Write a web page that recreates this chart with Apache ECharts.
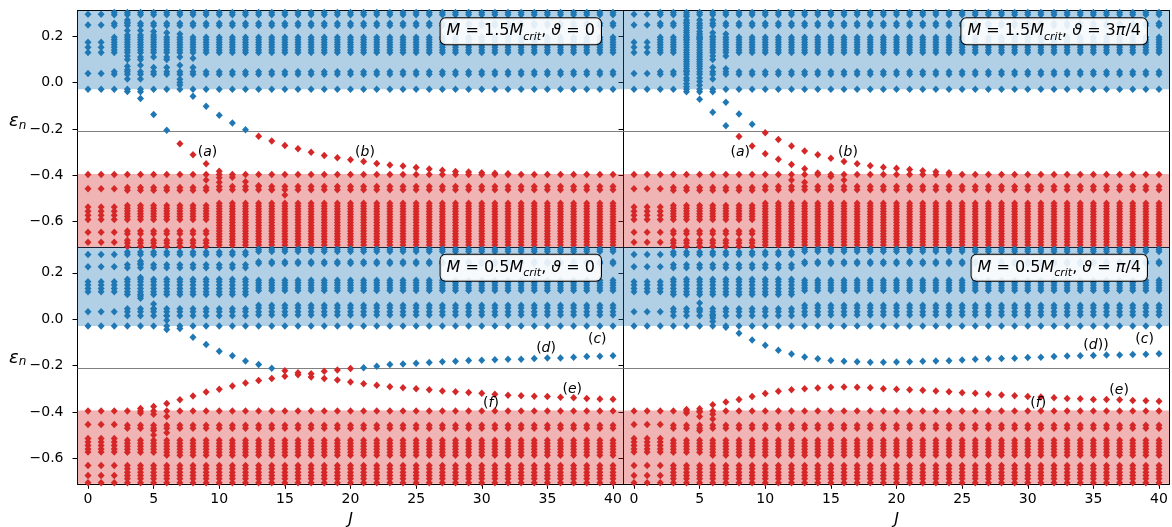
<!DOCTYPE html>
<html>
<head>
<meta charset="utf-8">
<script src="https://cdn.jsdelivr.net/npm/echarts@6.0.0/dist/echarts.min.js"></script>
<style>
html,body{margin:0;padding:0;background:#fff;}
#chart{width:1172px;height:527px;}
</style>
</head>
<body>
<div id="chart"></div>
<script>
// ---------------- data ----------------
const jValues = [0,1,2,3,4,5,6,7,8,9,10,11,12,13,14,15,16,17,18,19,20,21,22,23,24,25,26,27,28,29,30,31,32,33,34,35,36,37,38,39,40];
const xTicks = [0,5,10,15,20,25,30,35,40];
const yTicks = [-0.6,-0.4,-0.2,0,0.2];
const midLevel = -0.21;
const blueBand = [-0.029, 0.31];
const redBand = [-0.71, -0.394];

// band levels, M = 1.5 M_crit (top row); each level set applies to a J range
const topBlueEdge  = [-0.029];
const topBlueLowJ  = [0.295, 0.248, 0.174, 0.152, 0.130, 0.039];
const topBlueHighJ = [0.302, 0.292, 0.256, 0.246, 0.196, 0.185, 0.174, 0.163, 0.152, 0.141, 0.130, 0.047, 0.036];
const topBlueRanges = [[0, 40], [0, 1], [2, 40]];
const topRedEdge   = [-0.396];
const topRedLowJ   = [-0.458, -0.537, -0.555, -0.572, -0.590, -0.645, -0.689];
const topRedMidJ   = [-0.452, -0.464, -0.530, -0.542, -0.554, -0.566, -0.578, -0.590, -0.640, -0.652, -0.680, -0.692, -0.707];
const topRedHighJ  = [-0.448, -0.462, -0.520, -0.532, -0.544, -0.556, -0.568, -0.580, -0.592, -0.604, -0.616, -0.628, -0.640, -0.652, -0.664, -0.676, -0.688, -0.700];
const topRedRanges = [[0, 40], [0, 2], [3, 9], [10, 40]];

// band levels, M = 0.5 M_crit (bottom row)
const botBlueEdge  = [-0.029];
const botBlueLowJ  = [0.279, 0.226, 0.161, 0.147, 0.132, 0.118, 0.032];
const botBlueMidJ  = [0.290, 0.279, 0.235, 0.222, 0.172, 0.161, 0.147, 0.132, 0.118, 0.106, 0.045, 0.032, 0.015];
const botBlueHighJ = [0.302, 0.292, 0.248, 0.240, 0.168, 0.157, 0.146, 0.135, 0.124, 0.060, 0.048, 0.032, 0.018];
const botBlueRanges = [[0, 40], [0, 2], [3, 12], [13, 40]];
const botRedEdge   = [-0.396];
const botRedLowJ   = [-0.454, -0.515, -0.530, -0.545, -0.560, -0.573, -0.631, -0.674, -0.705];
const botRedHighJ  = [-0.458, -0.470, -0.522, -0.535, -0.548, -0.561, -0.574, -0.631, -0.645, -0.660, -0.674, -0.688, -0.705];
const botRedExtraJ = [-0.587];
const botRedRanges = [[0, 40], [0, 2], [3, 40], [6, 40]];

// irregular in-band levels: [J, [levels]]
const tlBlueExtra = [[3,[0.27,0.26,0.225,0.205,0.115,0.10,0.07,0.055,0.015,-0.038]],[4,[0.225,0.205,0.11,0.10,0.075,0.015,-0.04]],[5,[0.22,0.205,0.11,0.065]],[6,[0.215,0.11,0.10,0.065]],[7,[0.21,0.11,0.075,0.0,-0.01]],[8,[0.105,0.065]]];
const tlRedExtra  = [[9,[-0.42]],[10,[-0.41,-0.43]]];
const trBlueExtra = [[4,[0.285,0.27,0.26,0.235,0.225,0.215,0.205,0.195,0.185,0.12,0.11,0.10,0.09,0.08,0.07,0.06,0.05,0.02,0.01,-0.005,-0.018,-0.04]],[5,[0.27,0.235,0.22,0.21,0.2,0.19,0.12,0.11,0.10,0.09,0.08,0.07,0.06,0.02,0.005,-0.012,-0.04]],[6,[0.27,0.215,0.2,0.115,0.10,0.065,0.015,-0.04]],[7,[0.21,0.115,0.06]]];
const trRedExtra  = [[12,[-0.42]],[13,[-0.43]]];
const blBlueExtra = [[4,[0.25,0.24,0.18,0.10,0.09]],[5,[0.065,0.045]],[6,[0.015,-0.005,-0.045]]];
const blRedExtra  = [[4,[-0.385,-0.405]],[5,[-0.41,-0.48,-0.50]],[6,[-0.42,-0.49]]];
const brBlueExtra = [[5,[0.07,0.04]],[6,[0.02,0.005,-0.01]],[7,[-0.035]]];
const brRedExtra  = [[4,[-0.39,-0.405]],[5,[-0.40,-0.42,-0.48]],[6,[-0.41,-0.43]]];

// in-gap states: [J, epsilon]
const tlBlueGap = [[4,-0.069],[5,-0.138],[6,-0.206],[7,0.014],[8,-0.059],[9,-0.102],[10,-0.141],[11,-0.174],[12,-0.203]];
const tlRedGap  = [[7,-0.264],[8,-0.311],[9,-0.350],[10,-0.382],[11,-0.408],[12,-0.428],[13,-0.445],[14,-0.462],[15,-0.485],
  [13,-0.231],[14,-0.252],[15,-0.271],[16,-0.285],[17,-0.301],[18,-0.315],[19,-0.324],[20,-0.333],[21,-0.340],[22,-0.349],[23,-0.356],[24,-0.360],[25,-0.366],[26,-0.373],[27,-0.378],[28,-0.383],[29,-0.386],[30,-0.389],[31,-0.391],[32,-0.393]];
const trBlueGap = [[5,-0.072],[6,-0.128],[7,-0.186],[7,-0.085],[8,-0.136],[9,-0.180]];
const trRedGap  = [[8,-0.233],[9,-0.274],[10,-0.307],[11,-0.331],[12,-0.353],[13,-0.372],[14,-0.390],[15,-0.405],[16,-0.420],
  [10,-0.216],[11,-0.245],[12,-0.274],[13,-0.295],[14,-0.311],[15,-0.326],[16,-0.340],[17,-0.350],[18,-0.359],[19,-0.365],[20,-0.370],[21,-0.375],[22,-0.380],[23,-0.385],[24,-0.389]];
const blBlueGap = [[7,-0.040],[8,-0.078],[9,-0.109],[10,-0.138],[11,-0.158],[12,-0.180],[13,-0.196],[14,-0.212],
  [21,-0.209],[22,-0.203],[23,-0.196],[24,-0.193],[25,-0.190],[26,-0.187],[27,-0.184],[28,-0.181],[29,-0.178],[30,-0.177],[31,-0.175],[32,-0.173],[33,-0.173],[34,-0.170],[35,-0.167],[36,-0.167],[37,-0.164],[38,-0.161],[39,-0.160],[40,-0.158]];
const blRedGap  = [[5,-0.377],[6,-0.364],[7,-0.347],[8,-0.331],[9,-0.314],[10,-0.302],[11,-0.288],[12,-0.275],[13,-0.265],[14,-0.256],
  [15,-0.246],[15,-0.222],[16,-0.231],[16,-0.240],[17,-0.235],[17,-0.249],[18,-0.225],[18,-0.256],[19,-0.219],[19,-0.262],[20,-0.213],[20,-0.271],
  [21,-0.278],[22,-0.285],[23,-0.291],[24,-0.296],[25,-0.300],[26,-0.304],[27,-0.310],[28,-0.313],[29,-0.316],[30,-0.320],[31,-0.324],[32,-0.328],[33,-0.330],[34,-0.332],[35,-0.334],[36,-0.337],[37,-0.339],[38,-0.342],[39,-0.344],[40,-0.345]];
const brBlueGap = [[8,-0.061],[9,-0.090],[10,-0.112],[11,-0.134],[12,-0.150],[13,-0.163],[14,-0.171],[15,-0.178],[16,-0.181],[17,-0.184],[18,-0.186],[19,-0.186],[20,-0.185],
  [21,-0.184],[22,-0.181],[23,-0.180],[24,-0.179],[25,-0.176],[26,-0.173],[27,-0.171],[28,-0.170],[29,-0.168],[30,-0.165],[31,-0.164],[32,-0.161],[33,-0.159],[34,-0.158],[35,-0.157],[36,-0.155],[37,-0.154],[38,-0.152],[39,-0.151],[40,-0.149]];
const brRedGap  = [[5,-0.386],[6,-0.369],[7,-0.357],[8,-0.346],[9,-0.333],[10,-0.321],[11,-0.311],[12,-0.304],[13,-0.300],[14,-0.297],[15,-0.294],[16,-0.293],[17,-0.294],[18,-0.296],[19,-0.300],[20,-0.302],
  [21,-0.304],[22,-0.307],[23,-0.310],[24,-0.313],[25,-0.317],[26,-0.320],[27,-0.324],[28,-0.327],[29,-0.330],[30,-0.333],[31,-0.336],[32,-0.339],[33,-0.342],[34,-0.343],[35,-0.346],[36,-0.346],[37,-0.348],[38,-0.351],[39,-0.352],[40,-0.354]];

// annotations: [J, epsilon, letter, closing]
const tlNotes = [[9.1,-0.301,'a',')'],[21.1,-0.301,'b',')']];
const trNotes = [[8.1,-0.301,'a',')'],[16.3,-0.301,'b',')']];
const blNotes = [[38.8,-0.086,'c',')'],[34.9,-0.127,'d',')'],[36.9,-0.304,'e',')'],[30.7,-0.365,'f',')']];
const brNotes = [[38.9,-0.086,'c',')'],[35.2,-0.114,'d','))'],[36.96,-0.306,'e',')'],[30.8,-0.365,'f',')']];

const panelMass  = ['1.5','1.5','0.5','0.5'];
const panelTheta = ['0','3{i|π}/4','0','{i|π}/4'];

// ---------------- build ----------------
const BLUE = '#1f77b4', RED = '#d62728';
const FONT = 'DejaVu Sans';
function bandPoints(levelSets, ranges) {
  const pts = [];
  levelSets.forEach((levels, k) => {
    jValues.forEach(j => { if (j >= ranges[k][0] && j <= ranges[k][1]) levels.forEach(v => pts.push([j, v])); });
  });
  return pts;
}
function extraPoints(extra) {
  const pts = [];
  extra.forEach(([j, levels]) => levels.forEach(v => pts.push([j, v])));
  return pts;
}
const topBlue = bandPoints([topBlueEdge, topBlueLowJ, topBlueHighJ], topBlueRanges);
const topRed  = bandPoints([topRedEdge, topRedLowJ, topRedMidJ, topRedHighJ], topRedRanges);
const botBlue = bandPoints([botBlueEdge, botBlueLowJ, botBlueMidJ, botBlueHighJ], botBlueRanges);
const botRed  = bandPoints([botRedEdge, botRedLowJ, botRedHighJ, botRedExtraJ], botRedRanges);
const panels = [
  {blue: topBlue.concat(extraPoints(tlBlueExtra), tlBlueGap), red: topRed.concat(extraPoints(tlRedExtra), tlRedGap), notes: tlNotes},
  {blue: topBlue.concat(extraPoints(trBlueExtra), trBlueGap), red: topRed.concat(extraPoints(trRedExtra), trRedGap), notes: trNotes},
  {blue: botBlue.concat(extraPoints(blBlueExtra), blBlueGap), red: botRed.concat(extraPoints(blRedExtra), blRedGap), notes: blNotes},
  {blue: botBlue.concat(extraPoints(brBlueExtra), brBlueGap), red: botRed.concat(extraPoints(brRedExtra), brRedGap), notes: brNotes}
];

const gridPos = [
  {left: 77.5, top: 10.7}, {left: 623.5, top: 10.7},
  {left: 77.5, top: 247.3}, {left: 623.5, top: 247.3}
];
const GW = 546, GH = 236.5;

const xAxes = [], yAxes = [], series = [], graphic = [];
const axisLineStyle = {color: '#000', width: 1};
const tickFmt = v => (v < -1e-9 ? '\u2212' : '') + Math.abs(v).toFixed(1);
const SYM = [7, 7.5];

gridPos.forEach((g, i) => {
  const bottomRow = i >= 2, leftCol = i % 2 === 0;
  xAxes.push({
    type: 'value', gridIndex: i, min: -0.8, max: 40.8, position: 'bottom',
    axisLine: {show: true, onZero: false, lineStyle: axisLineStyle},
    axisTick: {show: bottomRow, customValues: xTicks, length: 5, lineStyle: {color: '#000'}},
    axisLabel: {show: bottomRow, customValues: xTicks, fontSize: 14, fontFamily: FONT, color: '#000', margin: 9},
    splitLine: {show: false},
    name: bottomRow ? 'J' : '', nameLocation: 'middle', nameGap: 28,
    nameTextStyle: {fontSize: 16, fontStyle: 'italic', fontFamily: FONT, color: '#000'}
  });
  xAxes.push({
    type: 'value', gridIndex: i, min: -0.8, max: 40.8, position: 'top',
    axisLine: {show: true, onZero: false, lineStyle: axisLineStyle},
    axisTick: {show: false}, axisLabel: {show: false}, splitLine: {show: false}
  });
  yAxes.push({
    type: 'value', gridIndex: i, min: -0.71, max: 0.31, position: 'left',
    axisLine: {show: true, onZero: false, lineStyle: axisLineStyle},
    axisTick: {show: true, customValues: yTicks, length: 5, lineStyle: {color: '#000'}},
    axisLabel: {show: leftCol, customValues: yTicks, formatter: tickFmt, fontSize: 14, fontFamily: FONT, color: '#000', margin: 14},
    splitLine: {show: false}
  });
  yAxes.push({
    type: 'value', gridIndex: i, min: -0.71, max: 0.31, position: 'right',
    axisLine: {show: true, onZero: false, lineStyle: axisLineStyle},
    axisTick: {show: false}, axisLabel: {show: false}, splitLine: {show: false}
  });
  const p = panels[i];
  series.push({
    type: 'scatter', xAxisIndex: 2 * i, yAxisIndex: 2 * i, data: p.blue, silent: true,
    symbol: 'diamond', symbolSize: SYM, itemStyle: {color: BLUE, opacity: 1}, progressive: 0, z: 3,
    markArea: {silent: true, z: 1, itemStyle: {color: 'rgba(31,119,180,0.35)'}, data: [[{yAxis: blueBand[0]}, {yAxis: blueBand[1]}]]},
    markLine: {silent: true, z: 2, symbol: 'none', label: {show: false}, lineStyle: {color: '#808080', width: 1.2, type: 'solid'}, data: [{yAxis: midLevel}]}
  });
  series.push({
    type: 'scatter', xAxisIndex: 2 * i, yAxisIndex: 2 * i, data: p.red, silent: true,
    symbol: 'diamond', symbolSize: SYM, itemStyle: {color: RED, opacity: 1}, progressive: 0, z: 3,
    markArea: {silent: true, z: 1, itemStyle: {color: 'rgba(214,39,40,0.35)'}, data: [[{yAxis: redBand[0]}, {yAxis: redBand[1]}]]}
  });
  series.push({
    type: 'scatter', xAxisIndex: 2 * i, yAxisIndex: 2 * i, data: p.notes, silent: true, symbolSize: 0, z: 6,
    itemStyle: {opacity: 1, color: '#000'},
    label: {show: true, position: 'inside', opacity: 1,
      formatter: q => '(' + '{i|' + q.data[2] + '}' + q.data[3],
      fontSize: 14, fontFamily: FONT, color: '#000', textBorderWidth: 0,
      rich: {i: {fontSize: 14, fontFamily: FONT, fontStyle: 'italic', color: '#000', textBorderWidth: 0}}}
  });
  // parameter box
  graphic.push({
    type: 'text', right: 1172 - (g.left + GW) + 21.5, top: g.top + 6.5, z: 100,
    style: {
      text: '{i|M} = ' + panelMass[i] + '{i|M}{s|crit}, {i|\u03d1} = ' + panelTheta[i],
      fontSize: 16, fontFamily: FONT, fill: '#000', lineHeight: 22,
      backgroundColor: 'rgba(255,255,255,0.88)', borderColor: '#000', borderWidth: 1, borderRadius: 5,
      padding: [2, 6, 2, 6],
      rich: {
        i: {fontSize: 16, fontFamily: FONT, fontStyle: 'italic', fill: '#000', lineHeight: 22},
        s: {fontSize: 11, fontFamily: FONT, fontStyle: 'italic', fill: '#000', lineHeight: 12, verticalAlign: 'bottom'}
      }
    }
  });
  if (leftCol) {
    graphic.push({
      type: 'text', left: 9, top: g.top + 101, z: 100,
      style: {
        text: '{e|\u03b5}{n|n}', fontSize: 17, fontFamily: FONT, fill: '#000', lineHeight: 20,
        rich: {
          e: {fontSize: 18, fontFamily: FONT, fontStyle: 'italic', fill: '#000', lineHeight: 20},
          n: {fontSize: 12, fontFamily: FONT, fontStyle: 'italic', fill: '#000', lineHeight: 12, verticalAlign: 'bottom'}
        }
      }
    });
  }
});

const chart = echarts.init(document.getElementById('chart'), null, {renderer: 'canvas'});
chart.setOption({
  animation: false,
  backgroundColor: '#fff',
  grid: gridPos.map(g => ({left: g.left, top: g.top, width: GW, height: GH, containLabel: false, outerBoundsMode: 'none'})),
  xAxis: xAxes, yAxis: yAxes, series: series, graphic: graphic
});
</script>
</body>
</html>
